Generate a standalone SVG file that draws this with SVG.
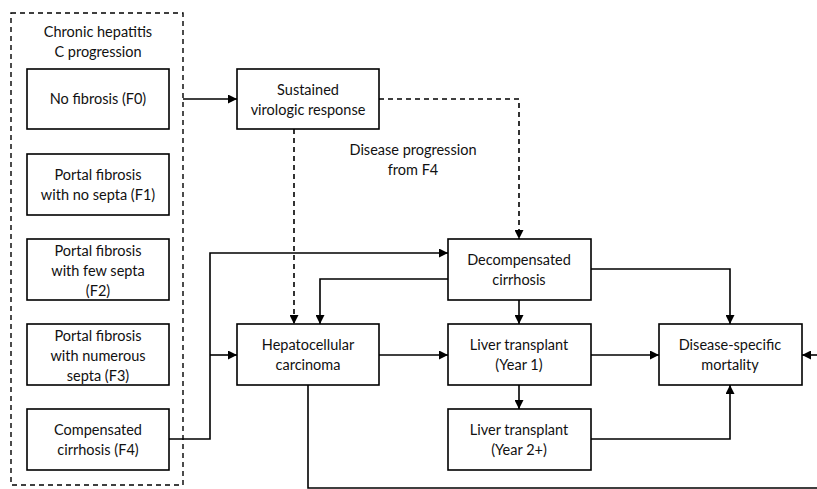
<svg xmlns="http://www.w3.org/2000/svg" width="817" height="489" viewBox="0 0 817 489">
<defs>
<style>
.box{fill:#fff;stroke:#000;stroke-width:1.6}
.t{font-family:Lato,"Open Sans","Liberation Sans",sans-serif;font-size:14.5px;fill:#111;text-anchor:middle}
.c{fill:none;stroke:#000;stroke-width:1.6}
.d{stroke-dasharray:5,4}
</style>
<marker id="a" viewBox="0 0 10 10" refX="10" refY="5" markerWidth="9" markerHeight="9" markerUnits="userSpaceOnUse" orient="auto"><path d="M0,0 L10,5 L0,10 z" fill="#000"/></marker>
</defs>
<rect width="817" height="489" fill="#fff"/>
<g id="group">
<rect x="11" y="13" width="172" height="472" fill="none" stroke="#000" stroke-width="1.4" stroke-dasharray="5,4"/>
<text class="t" x="98" y="37">Chronic hepatitis</text>
<text class="t" x="98" y="57">C progression</text>
</g>
<g id="f0"><rect class="box" x="27" y="69" width="142" height="60"/><text class="t" x="98" y="104">No fibrosis (F0)</text></g>
<g id="f1"><rect class="box" x="27" y="154" width="142" height="61"/><text class="t" x="98" y="180">Portal fibrosis</text><text class="t" x="98" y="200">with no septa (F1)</text></g>
<g id="f2"><rect class="box" x="27" y="239" width="142" height="61"/><text class="t" x="98" y="256">Portal fibrosis</text><text class="t" x="98" y="276">with few septa</text><text class="t" x="98" y="296">(F2)</text></g>
<g id="f3"><rect class="box" x="27" y="324" width="142" height="61"/><text class="t" x="98" y="341">Portal fibrosis</text><text class="t" x="98" y="361">with numerous</text><text class="t" x="98" y="381">septa (F3)</text></g>
<g id="f4"><rect class="box" x="27" y="409" width="142" height="61"/><text class="t" x="98" y="435">Compensated</text><text class="t" x="98" y="455">cirrhosis (F4)</text></g>
<g id="svr"><rect class="box" x="237" y="69" width="142" height="60"/><text class="t" x="308" y="95">Sustained</text><text class="t" x="308" y="115">virologic response</text></g>
<g id="hcc"><rect class="box" x="237" y="324" width="142" height="61"/><text class="t" x="308" y="350">Hepatocellular</text><text class="t" x="308" y="370">carcinoma</text></g>
<g id="decomp"><rect class="box" x="448" y="239" width="143" height="61"/><text class="t" x="519" y="265">Decompensated</text><text class="t" x="519" y="285">cirrhosis</text></g>
<g id="lt1"><rect class="box" x="448" y="324" width="143" height="61"/><text class="t" x="519" y="350">Liver transplant</text><text class="t" x="519" y="370">(Year 1)</text></g>
<g id="lt2"><rect class="box" x="448" y="409" width="143" height="61"/><text class="t" x="519" y="435">Liver transplant</text><text class="t" x="519" y="455">(Year 2+)</text></g>
<g id="mort"><rect class="box" x="659" y="324" width="143" height="61"/><text class="t" x="730" y="350">Disease-specific</text><text class="t" x="730" y="370">mortality</text></g>
<g id="label"><text class="t" x="413" y="155">Disease progression</text><text class="t" x="413" y="175">from F4</text></g>
<g id="connectors">
<path class="c" d="M183,99 H237" marker-end="url(#a)"/>
<path class="c d" d="M379,99 H519 V239" marker-end="url(#a)"/>
<path class="c d" d="M294,129 V324" marker-end="url(#a)"/>
<path class="c" d="M169,439 H210 V253 H448" marker-end="url(#a)"/>
<path class="c" d="M210,355 H237" marker-end="url(#a)"/>
<path class="c" d="M448,279 H320 V324" marker-end="url(#a)"/>
<path class="c" d="M519,300 V324" marker-end="url(#a)"/>
<path class="c" d="M591,269 H730 V324" marker-end="url(#a)"/>
<path class="c" d="M379,355 H448" marker-end="url(#a)"/>
<path class="c" d="M591,355 H659" marker-end="url(#a)"/>
<path class="c" d="M519,385 V409" marker-end="url(#a)"/>
<path class="c" d="M591,439 H730 V385" marker-end="url(#a)"/>
<path class="c" d="M308,385 V488 H817"/>
<path class="c" d="M817,355 H802" marker-end="url(#a)"/>
</g>
</svg>
